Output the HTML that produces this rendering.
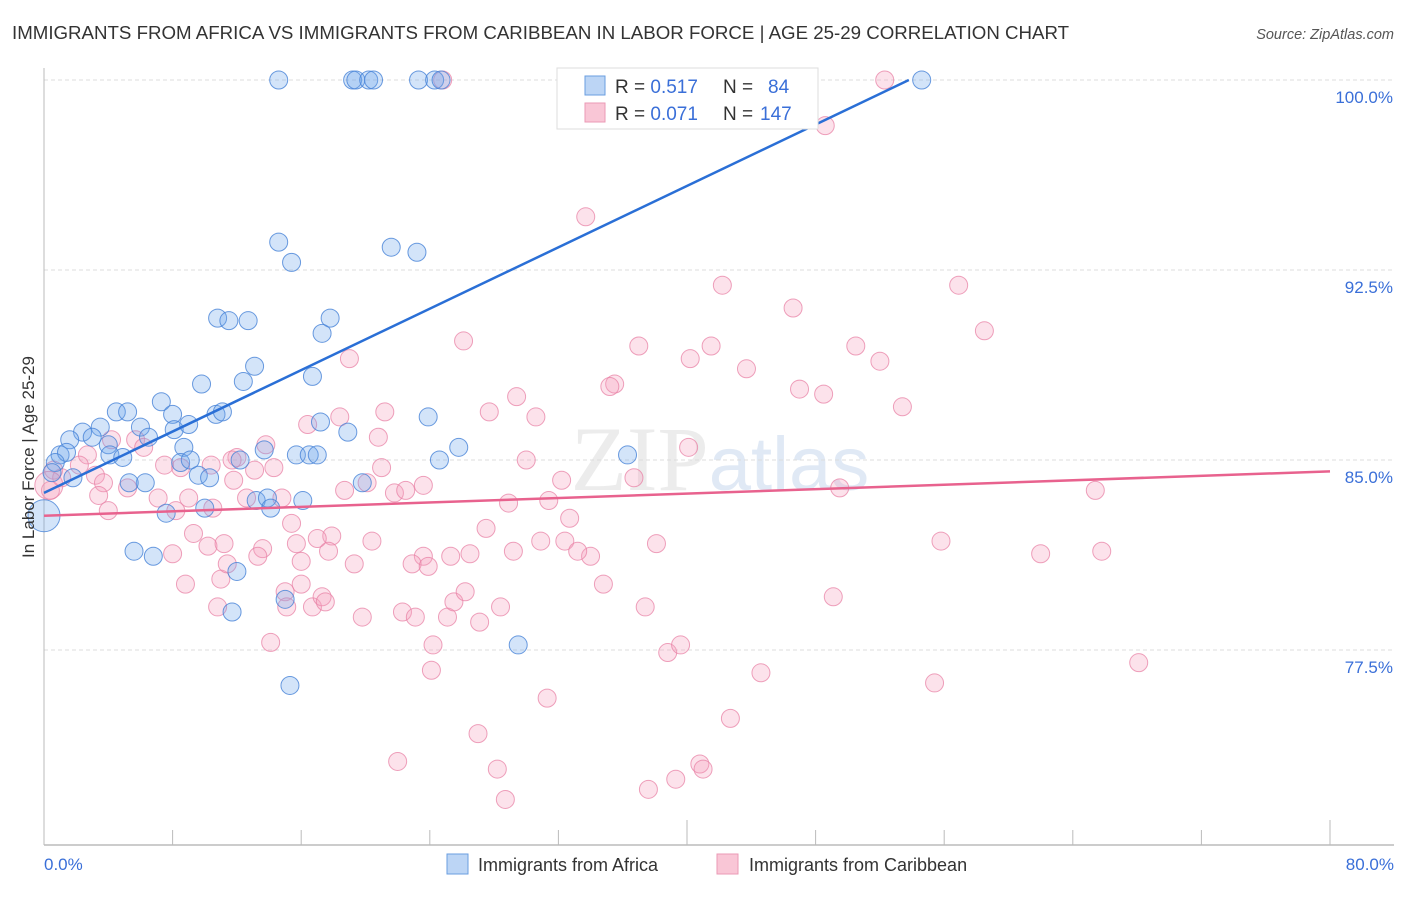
<!DOCTYPE html>
<html><head><meta charset="utf-8"><style>
body{margin:0;background:#fff;font-family:"Liberation Sans",sans-serif;}
</style></head><body>
<svg width="1406" height="892" xmlns="http://www.w3.org/2000/svg">
<text x="12" y="39" font-size="18.7" fill="#333">IMMIGRANTS FROM AFRICA VS IMMIGRANTS FROM CARIBBEAN IN LABOR FORCE | AGE 25-29 CORRELATION CHART</text>
<text x="1394" y="39" font-size="14.5" fill="#555" font-style="italic" text-anchor="end">Source: ZipAtlas.com</text>
<text x="720" y="490" font-size="92" fill="#ececec" text-anchor="middle" font-family="Liberation Serif,serif">ZIP<tspan fill="#e0e9f5" font-family="Liberation Sans,sans-serif" font-size="76">atlas</tspan></text>
<g id="grid"></g>
<g id="axes"></g>
<g id="pts"></g>
<g id="lines"></g>
<text transform="translate(34,457) rotate(-90)" font-size="17" fill="#333" text-anchor="middle">In Labor Force | Age 25-29</text>
<g>
<rect x="557" y="68" width="261" height="61" fill="#fff" stroke="#ddd"/>
<rect x="585" y="76" width="20" height="19" fill="#bcd5f5" stroke="#6a9ee0"/>
<rect x="585" y="103" width="20" height="19" fill="#f9c6d6" stroke="#eb9ab5"/>
<text x="615" y="93" font-size="19" fill="#333">R = <tspan fill="#3a6fd8">0.517</tspan><tspan x="723">N = </tspan><tspan x="768" fill="#3a6fd8">84</tspan></text>
<text x="615" y="120" font-size="19" fill="#333">R = <tspan fill="#3a6fd8">0.071</tspan><tspan x="723">N = </tspan><tspan x="760" fill="#3a6fd8">147</tspan></text>
</g>
<g>
<rect x="447" y="854" width="21" height="20" fill="#bcd5f5" stroke="#6a9ee0"/>
<text x="478" y="871" font-size="18" fill="#333">Immigrants from Africa</text>
<rect x="717" y="854" width="21" height="20" fill="#f9c6d6" stroke="#eb9ab5"/>
<text x="749" y="871" font-size="18" fill="#333">Immigrants from Caribbean</text>
</g>
</svg>
<script>
const yTicks=[100,92.5,85,77.5];
const yTickLabels=["100.0%","92.5%","85.0%","77.5%"];
const xTicks=[0,8,16,24,32,40,48,56,64,72,80];
const africaX=[14.6,19.2,19.4,20.2,20.5,23.3,24.3,24.7,54.6,14.6,15.4,21.6,23.2,10.8,11.5,12.7,17.8,17.3,13.1,12.4,9.8,16.7,7.3,8.0,10.7,11.1,4.5,5.2,3.5,6.0,8.1,9.0,17.2,18.9,23.9,2.4,3.0,4.0,6.5,1.6,1.0,1.4,4.1,4.9,0.7,1.8,0.5,8.7,12.2,13.7,15.7,16.5,17.0,8.5,9.1,9.6,10.3,25.8,24.6,36.3,6.3,5.3,7.6,10.0,13.2,13.9,14.1,16.1,19.8,5.6,6.8,12.0,11.7,15.0,15.3,29.5,0];
const africaY=[100,100,100,100,100,100,100,100,100,93.6,92.8,93.4,93.2,90.6,90.5,90.5,90.6,90.0,88.7,88.1,88.0,88.3,87.3,86.8,86.8,86.9,86.9,86.9,86.3,86.3,86.2,86.4,86.5,86.1,86.7,86.1,85.9,85.6,85.9,85.8,85.2,85.3,85.2,85.1,84.9,84.3,84.5,85.5,85.0,85.4,85.2,85.2,85.2,84.9,85.0,84.4,84.3,85.5,85.0,85.2,84.1,84.1,82.9,83.1,83.4,83.5,83.1,83.4,84.1,81.4,81.2,80.6,79.0,79.5,76.1,77.7,82.8];
const caribX=[24.8,52.3,48.6,33.7,42.2,56.9,46.6,58.5,26.1,37.0,41.5,40.2,50.5,52.0,19.0,43.7,35.5,35.2,47.0,48.5,29.4,53.4,21.2,27.7,30.6,18.4,16.4,20.8,40.1,13.8,12.0,7.5,8.5,10.4,4.2,5.7,6.2,2.7,2.2,0.6,1.1,3.2,3.7,3.4,0.4,5.2,4.0,7.1,8.2,9.0,10.5,11.8,12.6,13.1,14.3,14.8,11.7,21.0,18.7,20.1,21.8,22.5,23.6,30.0,32.2,31.4,28.9,36.7,49.5,65.4,32.7,27.5,32.4,34.0,29.2,30.9,33.2,25.3,26.5,23.6,22.9,23.9,20.4,19.3,17.9,17.7,17.0,15.7,16.0,13.6,13.3,15.4,9.3,10.2,11.2,8.0,8.8,11.0,11.4,16.0,15.0,15.1,16.7,17.3,17.5,19.8,22.3,23.1,25.1,25.5,26.2,27.1,28.4,34.8,37.4,38.1,10.8,14.1,24.2,24.1,31.3,27.0,22.0,28.2,28.7,37.6,39.3,40.8,41.0,42.7,44.6,38.8,39.6,49.1,55.8,55.4,62.0,65.8,68.1,0.3];
const caribY=[100,100,98.2,94.6,91.9,91.9,91.0,90.1,89.7,89.5,89.5,89.0,89.5,88.9,89.0,88.6,88.0,87.9,87.8,87.6,87.5,87.1,86.9,86.9,86.7,86.7,86.4,85.9,85.5,85.6,85.1,84.8,84.7,84.8,85.8,85.8,85.5,85.2,84.8,84.6,84.3,84.4,84.1,83.6,83.8,83.9,83.0,83.5,83.0,83.5,83.1,84.2,83.5,84.6,84.7,83.5,85.0,84.7,83.8,84.1,83.7,83.8,84.0,85.0,84.2,83.4,83.3,84.3,83.9,83.8,82.7,82.3,81.8,81.2,81.4,81.8,81.4,81.2,81.3,81.2,80.9,80.8,81.8,80.9,82.0,81.4,81.9,81.7,81.0,81.5,81.2,82.5,82.1,81.6,81.7,81.3,80.1,80.3,80.9,80.1,79.8,79.2,79.2,79.6,79.4,78.8,79.0,78.8,78.8,79.4,79.8,78.6,79.2,80.1,79.2,81.7,79.2,77.8,77.7,76.7,75.6,74.2,73.1,72.8,71.6,72.0,72.4,73.0,72.8,74.8,76.6,77.4,77.7,79.6,81.8,76.2,81.3,81.4,77.0,84.0];
const africaTrend=[[0,83.7],[53.8,100]];
const caribTrend=[[0,82.8],[80,84.55]];
const NS='http://www.w3.org/2000/svg';
const L=44,R=1330,T=80,B=845;
function sx(v){return L+(v-0)/80*(R-L);}
function sy(v){return T+(100-v)/7.5*190;}
function mk(tag,attrs,parent){const e=document.createElementNS(NS,tag);for(const k in attrs)e.setAttribute(k,attrs[k]);parent.appendChild(e);return e;}
const grid=document.getElementById('grid'),axes=document.getElementById('axes'),pts=document.getElementById('pts'),lines=document.getElementById('lines');
yTicks.forEach((t,i)=>{
 const g=mk('line',{x1:L,x2:1394,y1:sy(t),y2:sy(t),stroke:'#ddd','stroke-dasharray':'4,3'},grid);
 
 
 const tx=mk('text',{x:1393,y:sy(t)+23,'font-size':17,fill:'#3a6fd8','text-anchor':'end'},grid);
 tx.textContent=yTickLabels[i];
 
 
});
const ax=mk('line',{x1:L,x2:1394,y1:B,y2:B,stroke:'#bbb','stroke-width':1.5},axes);


const ay=mk('line',{x1:L,x2:L,y1:68,y2:B,stroke:'#bbb','stroke-width':1},axes);


xTicks.forEach((t,i)=>{
 const major=(t===40||t===80);
 const tk=mk('line',{x1:sx(t),x2:sx(t),y1:major?820:830,y2:B,stroke:'#bbb'},axes);
 
 
});
const xl0=mk('text',{x:L,y:870,'font-size':17,fill:'#3a6fd8'},axes);xl0.textContent='0.0%';


const xl1=mk('text',{x:1394,y:870,'font-size':17,fill:'#3a6fd8','text-anchor':'end'},axes);xl1.textContent='80.0%';


caribX.forEach((x,i)=>{
 const big=(x<0.5&&caribY[i]===84.0);
 const c=mk('circle',{cx:sx(x),cy:sy(caribY[i]),r:big?14:9,fill:'rgba(244,160,188,0.3)',stroke:'rgba(232,130,165,0.75)','stroke-width':1},pts);
 
 
});
africaX.forEach((x,i)=>{
 const big=(x===0);
 const c=mk('circle',{cx:sx(x),cy:sy(africaY[i]),r:big?16:9,fill:'rgba(110,165,235,0.3)',stroke:'rgba(70,130,215,0.8)','stroke-width':1},pts);
 
 
});
const lb=mk('line',{x1:sx(africaTrend[0][0]),y1:sy(africaTrend[0][1]),x2:sx(africaTrend[1][0]),y2:sy(africaTrend[1][1]),stroke:'#2a6fd6','stroke-width':2.5},lines);


const lp=mk('line',{x1:sx(caribTrend[0][0]),y1:sy(caribTrend[0][1]),x2:sx(caribTrend[1][0]),y2:sy(caribTrend[1][1]),stroke:'#e8628e','stroke-width':2.5},lines);


</script>
</body></html>
